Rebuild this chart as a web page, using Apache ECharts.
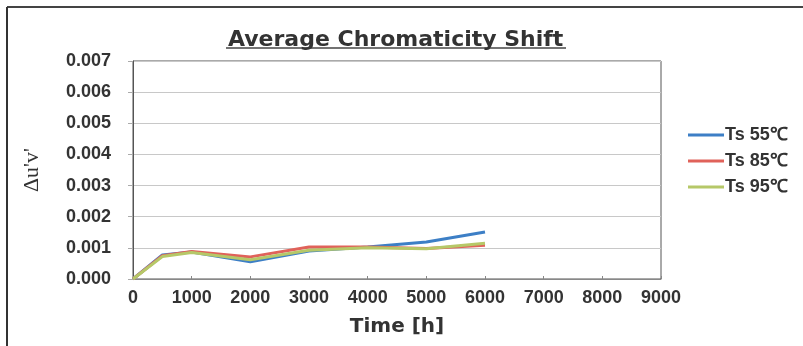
<!DOCTYPE html>
<html>
<head>
<meta charset="utf-8">
<script src="https://cdn.jsdelivr.net/npm/echarts@6/dist/echarts.min.js"></script>
<style>
  html, body { margin: 0; padding: 0; background: #fff; }
  #chart { width: 803px; height: 346px; }
</style>
</head>
<body>
<div id="chart"></div>
<script>
// hours
var hours = [0, 500, 1000, 2000, 3000, 4000, 5000, 6000]
var ts55 = [0, 0.00077, 0.00087, 0.00055, 0.0009, 0.00103, 0.00119, 0.00151]
var ts85 = [0, 0.00075, 0.00088, 0.00071, 0.00103, 0.00103, 0.00098, 0.00108]
var ts95 = [0, 0.00072, 0.00085, 0.00062, 0.00092, 0.001, 0.00097, 0.00115]
var names = ['Ts 55℃', 'Ts 85℃', 'Ts 95℃']
var colors = ['#3d7fc6', '#e0625a', '#b6c868']

function pairs (ys) {
  return hours.map(function (h, i) { return [h, ys[i]] })
}

var chart = echarts.init(document.getElementById('chart'))
var labelFont = { color: '#333', fontSize: 18, fontWeight: 'bold', fontFamily: 'Liberation Sans, Arial' }

var option = {
  animation: false,
  title: {
    text: 'Average Chromaticity Shift',
    left: 223,
    top: 24,
    textStyle: { color: '#333', fontSize: 22, fontWeight: 'bold', fontFamily: 'DejaVu Sans' }
  },
  legend: {
    orient: 'vertical',
    left: 683,
    top: 121,
    itemWidth: 36,
    itemHeight: 3,
    itemGap: 8,
    icon: 'rect',
    textStyle: { color: '#333', fontSize: 18, fontWeight: 'bold', fontFamily: 'Liberation Sans, Arial', padding: [0, 0, 0, -4] },
    data: names
  },
  grid: {
    left: 133,
    right: 142,
    top: 61,
    bottom: 67,
    show: true,
    borderColor: '#555',
    borderWidth: 1
  },
  xAxis: {
    type: 'value',
    min: 0,
    max: 9000,
    interval: 1000,
    name: 'Time [h]',
    nameLocation: 'middle',
    nameGap: 38,
    nameTextStyle: { color: '#333', fontSize: 20, fontWeight: 'bold', fontFamily: 'DejaVu Sans' },
    axisLine: { lineStyle: { color: '#888' } },
    axisTick: { inside: true, length: 3, lineStyle: { color: '#888' } },
    axisLabel: Object.assign({ margin: 10, formatter: function (v) { return String(v) } }, labelFont),
    splitLine: { show: false }
  },
  yAxis: {
    type: 'value',
    min: 0,
    max: 0.007,
    interval: 0.001,
    name: "Δu'v'",
    nameLocation: 'middle',
    nameGap: 90,
    nameTextStyle: { color: '#333', fontSize: 22, fontFamily: 'Liberation Serif, serif' },
    axisLine: { show: true, lineStyle: { color: '#555' } },
    axisTick: { show: true, length: 5, lineStyle: { color: '#aaa' } },
    axisLabel: Object.assign({ margin: 22, formatter: function (v) { return v.toFixed(3) } }, labelFont),
    splitLine: { lineStyle: { color: '#c8c8c8' } }
  },
  series: [ts55, ts85, ts95].map(function (ys, i) {
    return {
      name: names[i],
      type: 'line',
      data: pairs(ys),
      showSymbol: false,
      symbol: 'none',
      color: colors[i],
      lineStyle: { width: 3, color: colors[i] }
    }
  }),
  graphic: [
    { type: 'line', shape: { x1: 7, y1: 7, x2: 803, y2: 7 }, style: { stroke: '#444', lineWidth: 2 } },
    { type: 'line', shape: { x1: 7, y1: 7, x2: 7, y2: 346 }, style: { stroke: '#333', lineWidth: 2 } },
    { type: 'line', shape: { x1: 226, y1: 48, x2: 566, y2: 48 }, style: { stroke: '#444', lineWidth: 1.5 } }
  ]
}

chart.setOption(option)
</script>
</body>
</html>
